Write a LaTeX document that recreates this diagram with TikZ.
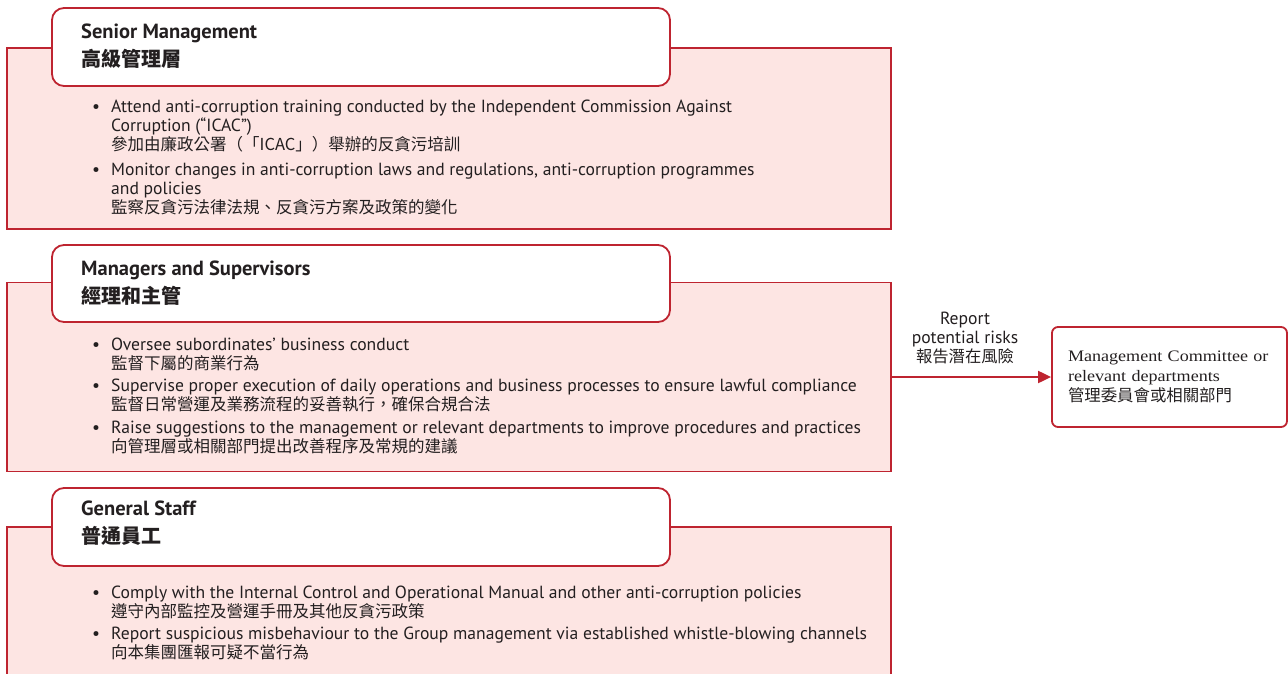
\documentclass[tikz,border=0pt]{standalone}
\usepackage{fontspec}
\setmainfont{PT Sans}
\newfontfamily\cjkfont{Noto Sans CJK TC}
\newfontfamily\boxserif[FakeStretch=1.13]{Liberation Serif}
\usetikzlibrary{arrows.meta}

\definecolor{boxred}{RGB}{190,36,48}
\definecolor{boxpink}{RGB}{253,229,227}
\definecolor{inkgray}{RGB}{35,31,32}

\newcommand{\bodyen}{\fontsize{17.6}{19}\selectfont}
\newcommand{\bodyzh}{\cjkfont\fontsize{16.5}{19}\selectfont}
\newcommand{\heading}{\fontsize{20.5}{28}\selectfont\bfseries}
\newcommand{\headzh}{\cjkfont\bfseries\fontsize{20}{28}\selectfont}
\newcommand{\dotmark}{\llap{\textbullet\hspace{11pt}}}

\begin{document}
\begin{tikzpicture}[x=1pt, y=-1pt]
  \tikzstyle{pink_box}  = [draw=boxred, fill=boxpink, line width=1.8pt, inner sep=0pt];
  \tikzstyle{tab_box}   = [draw=boxred, fill=white, line width=1.8pt, rounded corners=12pt,
                           minimum width=618pt, inner sep=0pt];
  \tikzstyle{head_text} = [anchor=base west, align=left, inner sep=0pt, font=\heading, text=inkgray];
  \tikzstyle{item_text} = [anchor=base west, align=left, inner sep=0pt, font=\bodyen, text=inkgray];

  \useasboundingbox (0, 0) rectangle (1288, 674);

  \node[pink_box, minimum width=884pt, minimum height=181pt] (senior)   at (449, 138.5) {};
  \node[pink_box, minimum width=884pt, minimum height=189pt] (managers) at (449, 377)   {};
  \node[pink_box, minimum width=884pt, minimum height=173pt] (staff)    at (449, 613.5) {};

  \node[tab_box, minimum height=78pt] (senior_tab)   at (361, 47)    {};
  \node[tab_box, minimum height=77pt] (managers_tab) at (361, 283.5) {};
  \node[tab_box, minimum height=78pt] (staff_tab)    at (361, 527)   {};

  \node[head_text] (senior_head)   at (81, 67)  {Senior Management\\{\headzh 高級管理層}};
  \node[head_text] (managers_head) at (81, 303) {Managers and Supervisors\\{\headzh 經理和主管}};
  \node[head_text] (staff_head)    at (81, 543) {General Staff\\{\headzh 普通員工}};

  \node[item_text] (senior_a) at (111, 150)
    {\dotmark Attend anti-corruption training conducted by the Independent Commission Against\\
     Corruption (“ICAC”)\\{\bodyzh 參加由廉政公署（「ICAC」）舉辦的反貪污培訓}};
  \node[item_text] (senior_b) at (111, 213)
    {\dotmark Monitor changes in anti-corruption laws and regulations, anti-corruption programmes\\
     and policies\\{\bodyzh 監察反貪污法律法規、反貪污方案及政策的變化}};

  \node[item_text] (managers_a) at (111, 369)
    {\dotmark Oversee subordinates’ business conduct\\{\bodyzh 監督下屬的商業行為}};
  \node[item_text] (managers_b) at (111, 410)
    {\dotmark Supervise proper execution of daily operations and business processes to ensure lawful compliance\\
     {\bodyzh 監督日常營運及業務流程的妥善執行，確保合規合法}};
  \node[item_text] (managers_c) at (111, 452)
    {\dotmark Raise suggestions to the management or relevant departments to improve procedures and practices\\
     {\bodyzh 向管理層或相關部門提出改善程序及常規的建議}};

  \node[item_text] (staff_a) at (111, 617)
    {\dotmark Comply with the Internal Control and Operational Manual and other anti-corruption policies\\
     {\bodyzh 遵守內部監控及營運手冊及其他反貪污政策}};
  \node[item_text] (staff_b) at (111, 658)
    {\dotmark Report suspicious misbehaviour to the Group management via established whistle-blowing channels\\
     {\bodyzh 向本集團匯報可疑不當行為}};

  \node[draw=boxred, line width=1.8pt, rounded corners=6pt, minimum height=100pt,
        text width=203pt, inner xsep=16pt, align=left, text=inkgray,
        font=\boxserif\fontsize{16}{20}\selectfont] (committee) at (1169.5, 377)
    {Management Committee or\\relevant departments\\{\bodyzh\fontsize{16.4}{25}\selectfont 管理委員會或相關部門}};

  \node[align=center, inner sep=0pt, text=inkgray, font=\bodyen] (risk_label) at (965, 338)
    {Report\\potential risks\\{\bodyzh\fontsize{16.3}{19}\selectfont 報告潛在風險}};

  \draw[draw=boxred, line width=2pt, -{Triangle[length=13pt, width=12pt]}] (managers.east) -- (committee.west);
\end{tikzpicture}
\end{document}
